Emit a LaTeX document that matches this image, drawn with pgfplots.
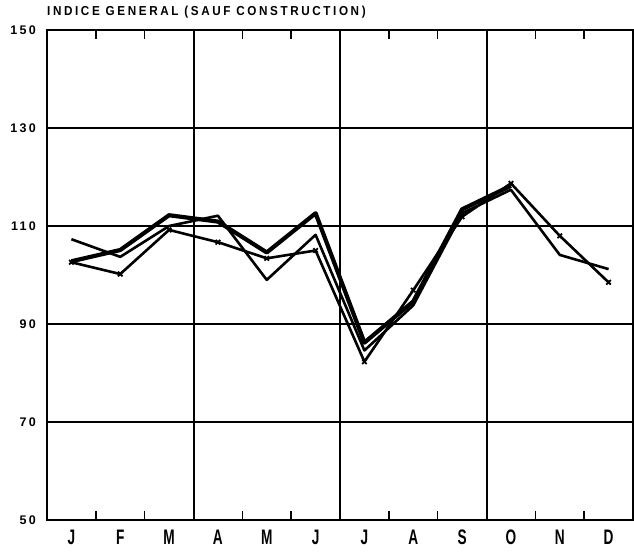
\documentclass[border=0pt]{standalone}
\usepackage{fontspec}
\setmainfont{Liberation Sans}
\newfontfamily\titlefont[LetterSpace=20,FakeStretch=0.9]{Liberation Sans}
\newfontfamily\digitfont[LetterSpace=18]{Liberation Sans}
\newfontfamily\monthfont[FakeStretch=0.65]{Liberation Sans}
\usepackage{pgfplots}
\pgfplotsset{compat=1.18}
\begin{document}
\begin{tikzpicture}
\begin{axis}[
  scale only axis, width=586pt, height=490pt,
  xmin=0, xmax=12, ymin=50, ymax=150,
  xtick={0.5,1.5,...,11.5},
  xticklabels={J,F,M,A,M,J,J,A,S,O,N,D},
  minor xtick={1,2,4,5,7,8,10,11},
  extra x ticks={3,6,9}, extra x tick labels={},
  extra x tick style={grid=major, major grid style={line width=2pt, black}},
  ytick={50,70,...,150},
  ymajorgrids,
  major grid style={line width=2.6pt, black},
  major tick length=0pt, minor tick length=9pt,
  xtick pos=both, ytick pos=left, tick align=inside,
  minor tick style={line width=1.6pt, black},
  axis line style={line width=1.8pt},
  /pgf/number format/assume math mode=true,
  yticklabel style={font=\digitfont\bfseries\fontsize{12.5}{12.5}\selectfont,
    inner sep=0pt, anchor=east, xshift=-11pt},
  xticklabel style={font=\monthfont\bfseries\fontsize{21}{21}\selectfont,
    inner sep=0pt, anchor=north, text height=15pt, yshift=-9pt},
  clip=false,
]
\addplot[black, line width=4.2pt, line join=round] coordinates {
 (0.5,102.8) (1.5,105.1) (2.5,112.2) (3.5,110.9) (4.5,104.6) (5.5,112.6)
 (6.5,86.2) (7.5,94.6) (8.5,113.4) (9.5,118.2)};
\addplot[black, line width=2.6pt, line join=round] coordinates {
 (0.5,107.3) (1.5,103.7) (2.5,110) (3.5,112.1) (4.5,99) (5.5,108.2)
 (6.5,84.6) (7.5,93.8) (8.5,112.6) (9.5,117.4) (10.5,104.1) (11.5,101.2)};
\addplot[black, line width=2.6pt, line join=round, mark=x, mark size=3.2pt,
  mark options={line width=1.8pt}] coordinates {
 (0.5,102.6) (1.5,100.2) (2.5,109.2) (3.5,106.7) (4.5,103.4) (5.5,105)
 (6.5,82.3) (7.5,96.9) (8.5,111.9) (9.5,118.7) (10.5,108) (11.5,98.5)};
\end{axis}
\node[anchor=south west, inner sep=0pt, font=\titlefont\bfseries\fontsize{13}{13}\selectfont]
  at ([yshift=12pt]current axis.north west) {INDICE GENERAL (SAUF CONSTRUCTION)};
\pgfresetboundingbox
\path ([shift={(-47pt,-32pt)}]current axis.south west) rectangle ([shift={(1pt,30pt)}]current axis.north east);
\end{tikzpicture}
\end{document}
